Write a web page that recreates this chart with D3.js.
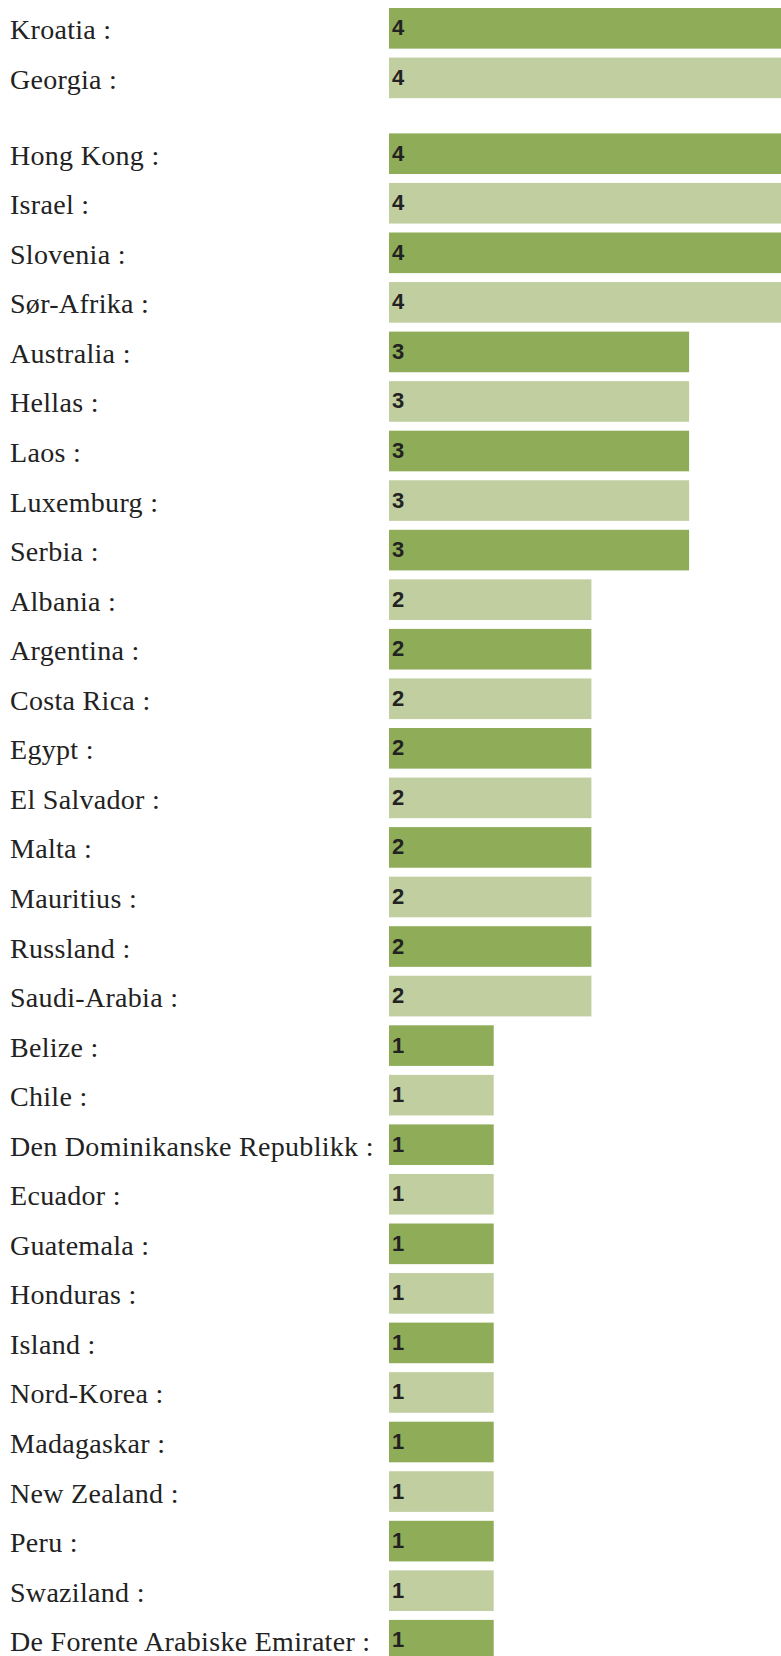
<!DOCTYPE html>
<html>
<head>
<meta charset="utf-8">
<script src="https://cdn.jsdelivr.net/npm/d3@7"></script>
<style>
  html, body { margin: 0; padding: 0; background: #fff; overflow: hidden; }
  svg { display: block; }
</style>
</head>
<body>
<div id="chart"></div>
<script>
// ---- data ----
const countries = [
  "Kroatia", "Georgia",
  "Hong Kong", "Israel", "Slovenia", "Sør-Afrika",
  "Australia", "Hellas", "Laos", "Luxemburg", "Serbia",
  "Albania", "Argentina", "Costa Rica", "Egypt", "El Salvador", "Malta",
  "Mauritius", "Russland", "Saudi-Arabia",
  "Belize", "Chile", "Den Dominikanske Republikk", "Ecuador", "Guatemala",
  "Honduras", "Island", "Nord-Korea", "Madagaskar", "New Zealand", "Peru",
  "Swaziland", "De Forente Arabiske Emirater"
];
const values = [
  4, 4,
  4, 4, 4, 4,
  3, 3, 3, 3, 3,
  2, 2, 2, 2, 2, 2,
  2, 2, 2,
  1, 1, 1, 1, 1,
  1, 1, 1, 1, 1, 1,
  1, 1
];
// group each row belongs to (a small gap separates groups)
const groups = [
  0, 0,
  1, 1, 1, 1,
  1, 1, 1, 1, 1,
  1, 1, 1, 1, 1, 1,
  1, 1, 1,
  1, 1, 1, 1, 1,
  1, 1, 1, 1, 1, 1,
  1, 1
];

// ---- layout ----
const W = 781, H = 1656;
const barX0 = 389;
const step = 49.55;
const padInner = 0.18;
const groupGap = 26.3;
const topY = 8;
const colors = ["#8fad59", "#c0cea0"];

const data = countries.map((c, i) => ({ name: c, value: values[i], group: groups[i], i }));

const y = d3.scaleBand()
  .domain(countries)
  .range([topY, topY + step * (countries.length - padInner)])
  .paddingInner(padInner)
  .paddingOuter(0);

const x = d3.scaleLinear()
  .domain([0, 4])
  .range([barX0 + 7, barX0 + 7 + 4 * 97.7]);

const yPos = d => y(d.name) + d.group * groupGap;

const svg = d3.select("#chart").append("svg")
  .attr("width", W)
  .attr("height", H);

const rows = svg.selectAll("g.row")
  .data(data)
  .join("g")
  .attr("class", "row")
  .attr("transform", d => `translate(0,${yPos(d)})`);

rows.append("rect")
  .attr("x", barX0)
  .attr("y", 0)
  .attr("width", d => x(d.value) - barX0)
  .attr("height", y.bandwidth())
  .attr("fill", d => colors[d.i % 2]);

rows.append("text")
  .attr("x", 10)
  .attr("y", y.bandwidth() / 2 + 11)
  .attr("font-family", "'Liberation Serif', 'Times New Roman', serif")
  .attr("font-size", 28)
  .attr("letter-spacing", 0.3)
  .attr("fill", "#222")
  .text(d => d.name + " :");

rows.append("text")
  .attr("x", barX0 + 3)
  .attr("y", y.bandwidth() / 2 + 7)
  .attr("font-family", "'Liberation Sans', Arial, sans-serif")
  .attr("font-weight", "bold")
  .attr("font-size", 22)
  .attr("fill", "#222")
  .text(d => d.value);
</script>
</body>
</html>
